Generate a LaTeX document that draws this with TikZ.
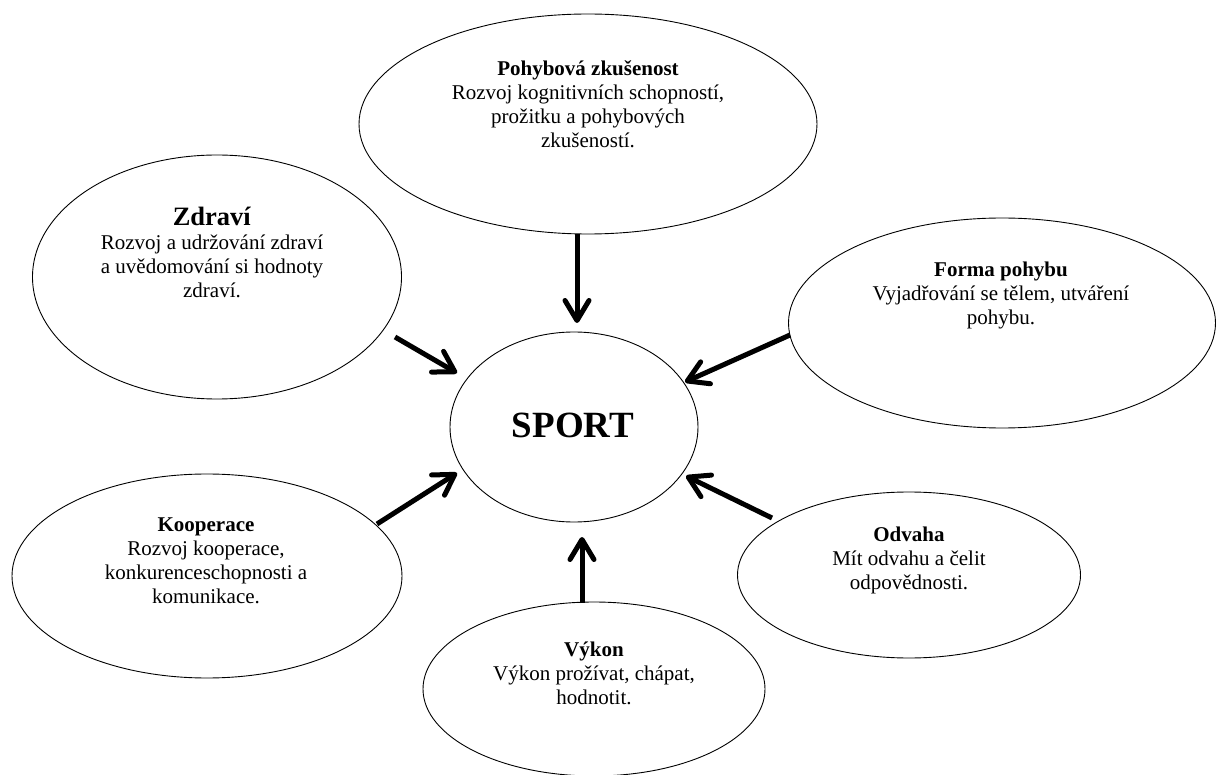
\documentclass[tikz,border=0pt]{standalone}
\usepackage{fontspec}
\setmainfont{Liberation Serif}
\usetikzlibrary{shapes.geometric,arrows.meta}
\begin{document}
\begin{tikzpicture}[x=1pt,y=-1pt,
  oval/.style={ellipse,draw,line width=0.9pt,inner sep=0pt,outer sep=0pt},
  txt/.style={align=center,font=\fontsize{21}{24}\selectfont,inner sep=0pt},
  arr/.style={line width=5pt,-{Straight Barb[length=20pt,width=24pt,round]}}]
\useasboundingbox (0,0) rectangle (1216,775);
\clip (0,0) rectangle (1216,775);
% ellipses
\node[oval,minimum width=458,minimum height=220] (top) at (588,124) {};
\node[oval,minimum width=369,minimum height=244] (zdravi) at (217,277) {};
\node[oval,minimum width=427,minimum height=210] (forma) at (1002,323) {};
\node[oval,minimum width=248,minimum height=190] (sport) at (574,427) {};
\node[oval,minimum width=390,minimum height=204] (koop) at (207,576) {};
\node[oval,minimum width=343,minimum height=166] (odvaha) at (909,575) {};
\node[oval,minimum width=342,minimum height=174] (vykon) at (594,689) {};
% texts
\node[txt] (topT) at (588,104) {\textbf{Pohybová zkušenost}\\Rozvoj kognitivních schopností,\\prožitku a pohybových\\zkušeností.};
\node[txt] (zdraviT) at (212,252) {{\fontsize{26.5}{28}\selectfont\textbf{Zdraví}}\\Rozvoj a udržování zdraví\\a uvědomování si hodnoty\\zdraví.};
\node[txt] (formaT) at (1001,295) {\textbf{Forma pohybu}\\Vyjadřování se tělem, utváření\\pohybu.};
\node[font=\fontsize{37}{40}\selectfont\bfseries,inner sep=0pt] (sportT) at (573,425) {SPORT};
\node[txt] (koopT) at (206,561) {\textbf{Kooperace}\\Rozvoj kooperace,\\konkurenceschopnosti a\\komunikace.};
\node[txt] (odvahaT) at (909,560) {\textbf{Odvaha}\\Mít odvahu a čelit\\odpovědnosti.};
\node[txt] (vykonT) at (594,673) {\textbf{Výkon}\\Výkon prožívat, chápat,\\hodnotit.};
% arrow end points
\coordinate (a1s) at (577,234);
\coordinate (a1e) at (577,323);
\coordinate (a2s) at (395,337);
\coordinate (a2e) at (457,373);
\coordinate (a3s) at (790,335);
\coordinate (a3e) at (685,382);
\coordinate (a4s) at (377,524);
\coordinate (a4e) at (457,473);
\coordinate (a5s) at (772,518);
\coordinate (a5e) at (686,476);
\coordinate (a6s) at (582,603);
\coordinate (a6e) at (582,537);
\draw[arr] (a1s) -- (a1e);
\draw[arr] (a2s) -- (a2e);
\draw[arr] (a3s) -- (a3e);
\draw[arr] (a4s) -- (a4e);
\draw[arr] (a5s) -- (a5e);
\draw[arr] (a6s) -- (a6e);
\end{tikzpicture}
\end{document}
